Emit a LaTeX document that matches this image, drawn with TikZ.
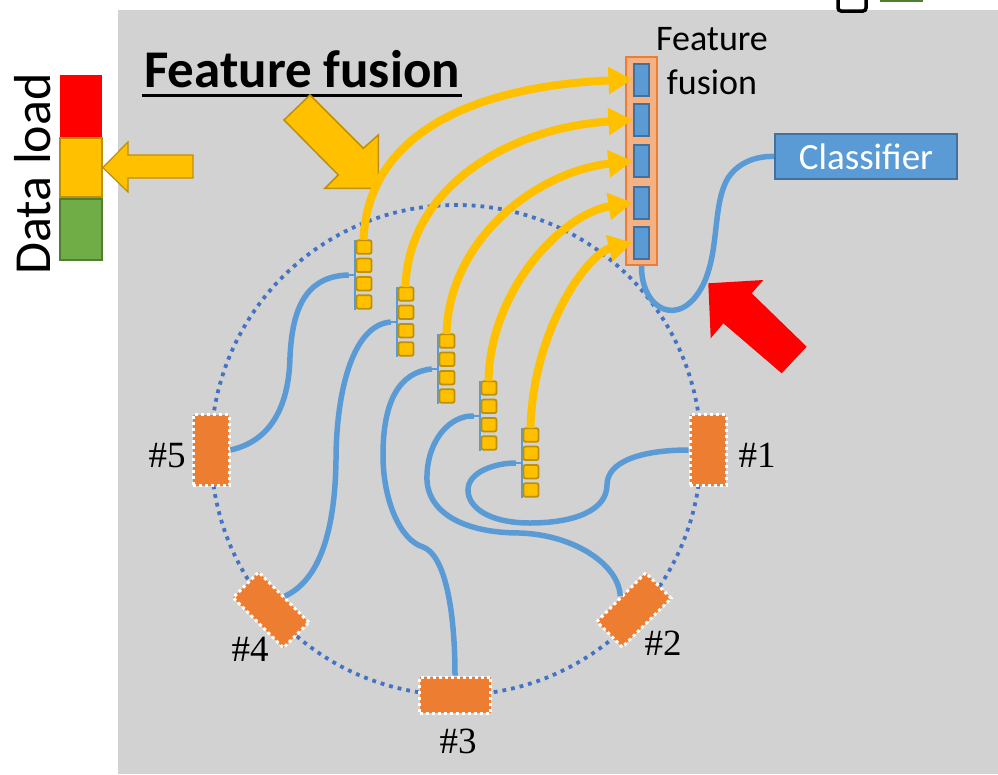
\documentclass[tikz,border=0pt]{standalone}
\usepackage{fontspec}
\setmainfont{Liberation Serif}
\newfontfamily\calibri{Carlito}
\usetikzlibrary{arrows.meta,calc}

\definecolor{panel}{HTML}{D2D2D2}
\definecolor{ringblue}{HTML}{4472C4}
\definecolor{linkblue}{HTML}{5B9BD5}
\definecolor{cellblue}{HTML}{41719C}
\definecolor{gold}{HTML}{FFC000}
\definecolor{golddark}{HTML}{BF9000}
\definecolor{gpuorange}{HTML}{ED7D31}
\definecolor{peach}{HTML}{F4B183}
\definecolor{leaf}{HTML}{70AD47}
\definecolor{leafdark}{HTML}{507E32}
\definecolor{alarm}{HTML}{FF0000}

\begin{document}
\begin{tikzpicture}[x=1pt,y=-1pt,
  gpu/.style={fill=gpuorange, draw=white, line width=3pt,
              dash pattern=on 3pt off 3pt, inner sep=0pt},
  tallgpu/.style={gpu, minimum width=36pt, minimum height=71pt},
  widegpu/.style={gpu, minimum width=71pt, minimum height=36pt},
  gpulabel/.style={font=\fontsize{37}{40}\selectfont, inner sep=0pt},
  grp/.style={minimum width=17pt, minimum height=70pt, inner sep=0pt},
  chip/.style={fill=gold, draw=golddark, line width=1.8pt, rounded corners=2pt,
               minimum width=15pt, minimum height=13.5pt, inner sep=0pt},
  cell/.style={fill=linkblue, draw=cellblue, line width=2pt,
               minimum width=15pt, minimum height=32pt, inner sep=0pt},
  link/.style={linkblue, line width=5.5pt},
  feed/.style={gold, line width=8pt, -{Triangle[length=24pt,width=26pt]}},
  lamp/.style={minimum width=42pt, inner sep=0pt}
]
\useasboundingbox (0,0) rectangle (998,774);
\clip (0,0) rectangle (998,774);

% panel
\fill[panel] (118,10) rectangle (998,774);

% edge of neighbouring items at the top
\draw[line width=3.5pt, fill=white, rounded corners=3pt] (838,-20) rectangle (866,11);
\fill[leafdark] (880,-10) rectangle (923,2);

% ring of workers
\draw[ringblue, line width=3.8pt, dash pattern=on 3.8pt off 5pt] (456,450) circle[radius=245];

% workers
\node[tallgpu] (n1) at (708,450) {};
\node[tallgpu] (n5) at (211,450) {};
\node[widegpu] (n3) at (455,695) {};
\node[widegpu, rotate=-45] (n4) at (271,610) {};
\node[widegpu, minimum width=69pt, rotate=45] (n2) at (634,610) {};

\node[gpulabel] (l1) at (757,455) {\#1};
\node[gpulabel] (l2) at (663,643) {\#2};
\node[gpulabel] (l3) at (458,741) {\#3};
\node[gpulabel] (l4) at (250,649) {\#4};
\node[gpulabel] (l5) at (167,456) {\#5};

% feature groups
\foreach \i/\x/\y in {1/355/240, 2/397/287, 3/438/334, 4/480/381, 5/522/428} {
  \node[grp] (g\i) at (\x+8.5,\y+35) {};
  \draw[linkblue, line width=1.5pt] (g\i.north west) -- (g\i.south west);
  \foreach \k in {0,...,3}
    \node[chip] (g\i-\k) at (\x+9,\y+7+18.33*\k) {};
}

% fusion column
\node[fill=peach, draw=gpuorange, line width=1.5pt, minimum width=31pt,
      minimum height=208pt, inner sep=0pt] (fcol) at (641.5,161) {};
\foreach \i/\y in {1/79.5, 2/120, 3/161, 4/202.5, 5/242.5}
  \node[cell] (f\i) at (641,\y) {};
\node[font=\calibri\fontsize{36}{44}\selectfont, align=center, inner sep=0pt]
  (fuselbl) at (712,61.5) {Feature\\fusion};

% classifier
\node[fill=linkblue, draw=cellblue, line width=2pt, minimum width=182pt,
      minimum height=45pt, inner sep=0pt, text=white,
      font=\calibri\fontsize{37}{40}\selectfont] (cls) at (866,156.5) {Classifier};

% title
\node[anchor=base west, inner sep=0pt,
      font=\calibri\bfseries\fontsize{53}{60}\selectfont] (title) at (144,87) {Feature fusion};
\draw[line width=3pt] ($(title.base west)+(-2,8.5)$) -- ($(title.base east)+(2,8.5)$);

% data load gauge
\node[rotate=90, anchor=base west, inner sep=0pt,
      font=\calibri\fontsize{52}{60}\selectfont] (dl) at (50,275) {Data load};
\node[lamp, fill=alarm, minimum height=62pt] (lred) at (81,106) {};
\node[lamp, fill=gold, draw=golddark, line width=1.5pt, minimum height=59pt] (lyel) at (81,167.5) {};
\node[lamp, fill=leaf, draw=leafdark, line width=1.5pt, minimum height=61pt] (lgrn) at (81,229.5) {};

% pointer to the gauge
\filldraw[fill=gold, draw=golddark, line width=1.2pt]
  (lyel.east) -- (128,142) -- (128,155) -- (193,155) -- (193,178)
  -- (128,178) -- (128,192) -- cycle;

% arrow under the title
\filldraw[fill=gold, draw=golddark, line width=1.5pt]
  (284,120) -- (310,95) -- (363.3,148.3) -- (378.3,135) -- (378.3,188.3)
  -- (325,188.3) -- (338.3,175) -- cycle;

% red arrow
\fill[alarm] (708.3,283.3) -- (763.3,280) -- (751.7,293.3) -- (806.7,346.7)
  -- (781.7,373.3) -- (723.3,323.3) -- (710.7,338.3) -- cycle;

% workers to feature groups
\draw[link] (n5.east) .. controls (275,440) and (289,400) .. (290,357)
  .. controls (292,315) and (302,276) .. ($(g1.west)+(-6,0)$);
\draw[link] (n4.north) .. controls (320,580) and (335,530) .. (336,460)
  .. controls (336,400) and (350,325) .. ($(g2.west)+(-6,0)$);
\draw[link] (n3.north) .. controls (455,610) and (445,555) .. (423,547)
  .. controls (400,540) and (383,500) .. (383,455)
  .. controls (383,400) and (400,372) .. ($(g3.west)+(-6,0)$);
\draw[link] (n2.north) .. controls (619,565) and (575,535) .. (520,533)
  .. controls (460,533) and (425,510) .. (427,475)
  .. controls (428,440) and (450,415) .. ($(g4.west)+(-6,0)$);
\draw[link] (n1.west) .. controls (640,450) and (607,462) .. (607,485)
  .. controls (607,510) and (575,523) .. (530,523)
  .. controls (490,523) and (468,508) .. (468,490)
  .. controls (468,472) and (495,463) .. ($(g5.west)+(-6,0)$);
\foreach \i in {1,...,5}
  \draw[linkblue, line width=1.5pt] ($(g\i.west)+(-7,0)$) -- (g\i.west);

% fusion to classifier
\draw[link] (fcol.south) .. controls (641,310) and (680,330) .. (703,285)
  .. controls (720,250) and (712,205) .. (728,178)
  .. controls (740,160) and (760,156) .. (cls.west);

% feature groups to fusion column
\draw[feed] (g1.north) .. controls (368,130) and (480,86) .. (f1.west);
\draw[feed] (g2.north) .. controls (408,190) and (505,128) .. (f2.west);
\draw[feed] (g3.north) .. controls (449,240) and (535,172) .. (f3.west);
\draw[feed] (g4.north) .. controls (490,290) and (562,214) .. (f4.west);
\draw[feed] (g5.north) .. controls (533,330) and (587,254) .. (f5.west);
\end{tikzpicture}
\end{document}
